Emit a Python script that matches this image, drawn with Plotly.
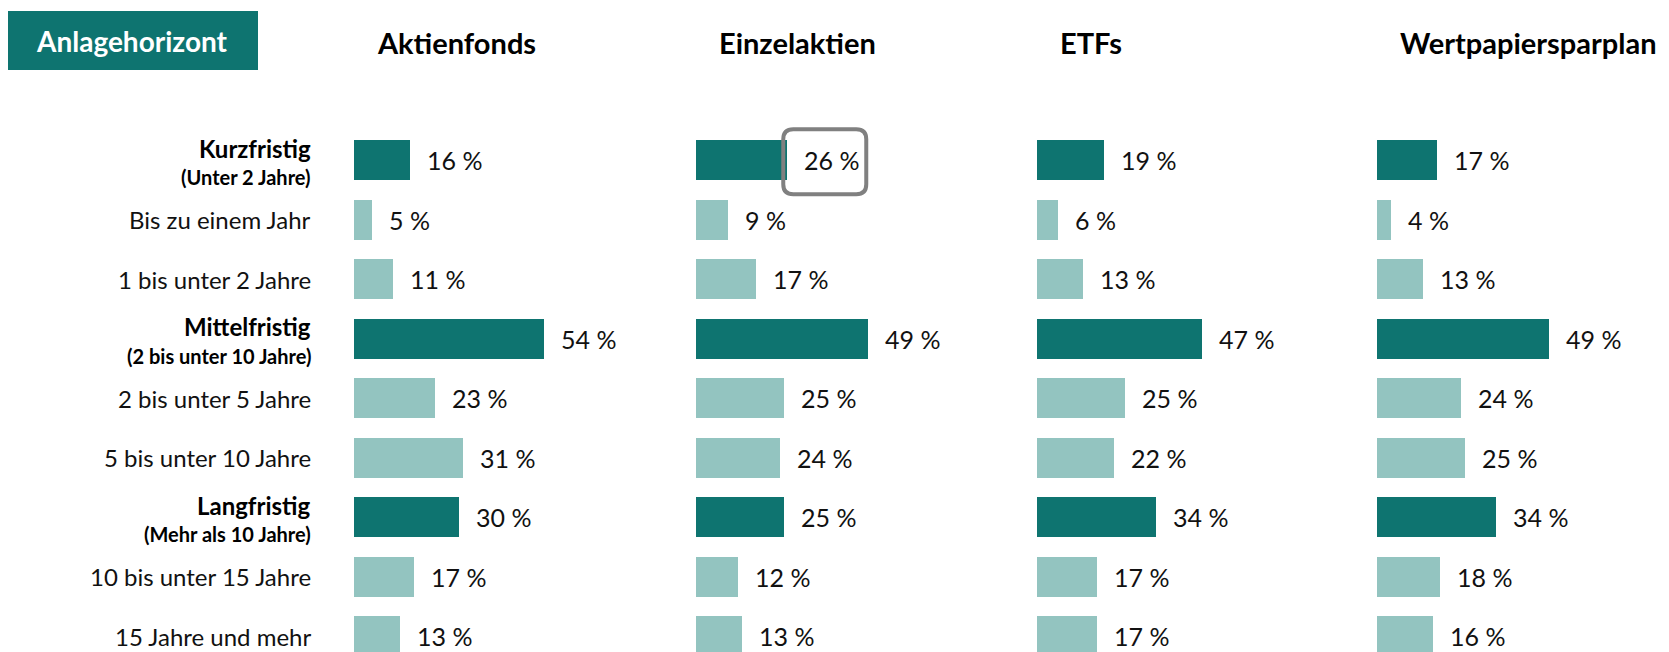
import plotly.graph_objects as go

# browser window size and the page's default body margin
WIN_W, WIN_H = 1669, 652
OFF = 8
W, H = WIN_W - OFF, WIN_H - OFF

categories = ["Kurzfristig", "Bis zu einem Jahr", "1 bis unter 2 Jahre",
              "Mittelfristig", "2 bis unter 5 Jahre", "5 bis unter 10 Jahre",
              "Langfristig", "10 bis unter 15 Jahre", "15 Jahre und mehr"]
subtitles = {"Kurzfristig": "(Unter 2 Jahre)",
             "Mittelfristig": "(2 bis unter 10 Jahre)",
             "Langfristig": "(Mehr als 10 Jahre)"}

products = ["Aktienfonds", "Einzelaktien", "ETFs", "Wertpapiersparplan"]
aktienfonds = [16, 5, 11, 54, 23, 31, 30, 17, 13]
einzelaktien = [26, 9, 17, 49, 25, 24, 25, 12, 13]
etfs = [19, 6, 13, 47, 25, 22, 34, 17, 17]
sparplan = [17, 4, 13, 49, 24, 25, 34, 18, 16]
values = [aktienfonds, einzelaktien, etfs, sparplan]

DARK = "#0E7470"
LIGHT = "#93C4C0"
FONT = "Lato"


def px_x(p):
    # window pixel -> paper x
    return (p - OFF) / W


def px_y(p):
    # window pixel -> paper y
    return 1 - (p - OFF) / H


# pixel layout (window coordinates)
bar_left = [354, 696, 1037, 1377]
px_per_pct = 3.51
dom_w = 290
row0, pitch = 160, 59.5

rows = list(range(len(categories)))
colors = [DARK if c in subtitles else LIGHT for c in categories]

fig = go.Figure()

for i, (name, vals) in enumerate(zip(products, values)):
    xa = "x" if i == 0 else f"x{i+1}"
    fig.add_trace(go.Bar(x=vals, y=rows, orientation="h", marker=dict(color=colors, line=dict(width=0)),
                         width=40 / pitch, xaxis=xa, yaxis="y", name=name, hoverinfo="x+y"))
    # value labels
    for r, v in zip(rows, vals):
        fig.add_annotation(x=v, y=r, xref=xa, yref="y", text=f"{v} %", showarrow=False,
                           xanchor="left", yanchor="middle", xshift=15,
                           font=dict(family=FONT, size=25, color="#111"))
    # product title
    fig.add_annotation(x=px_x(bar_left[i] + 21), y=px_y(42), xref="paper", yref="paper",
                       text=f"<b>{name}</b>", showarrow=False, xanchor="left", yanchor="middle",
                       font=dict(family=FONT, size=29, color="#000"))
    dom = [px_x(bar_left[i]), min(1, px_x(bar_left[i] + dom_w))]
    key = "xaxis" if i == 0 else f"xaxis{i+1}"
    fig.layout[key] = dict(domain=dom, range=[0, (dom[1] - dom[0]) * W / px_per_pct],
                           visible=False, anchor="y", fixedrange=True)

# category labels
lab_x = px_x(313)
for r, c in zip(rows, categories):
    if c in subtitles:
        fig.add_annotation(x=lab_x, y=r, xref="paper", yref="y", text=f"<b>{c}</b>",
                           showarrow=False, xanchor="right", yanchor="middle", yshift=12,
                           font=dict(family=FONT, size=24, color="#000"))
        fig.add_annotation(x=lab_x, y=r, xref="paper", yref="y", text=f"<b>{subtitles[c]}</b>",
                           showarrow=False, xanchor="right", yanchor="middle", yshift=-17,
                           font=dict(family=FONT, size=20, color="#000"))
    else:
        fig.add_annotation(x=lab_x, y=r, xref="paper", yref="y", text=c,
                           showarrow=False, xanchor="right", yanchor="middle",
                           font=dict(family=FONT, size=24, color="#111"))

# highlight box around the Einzelaktien short-term value
hv = einzelaktien[0]
x0, x1, h, rad = -4, 79, 32.5, 10
path = (f"M {x0+rad},{-h} L {x1-rad},{-h} Q {x1},{-h} {x1},{-h+rad} "
        f"L {x1},{h-rad} Q {x1},{h} {x1-rad},{h} L {x0+rad},{h} Q {x0},{h} {x0},{h-rad} "
        f"L {x0},{-h+rad} Q {x0},{-h} {x0+rad},{-h} Z")
fig.add_shape(type="path", xref="x2", yref="y", xsizemode="pixel", ysizemode="pixel",
              xanchor=hv, yanchor=0.03, path=path, line=dict(color="#808080", width=4),
              fillcolor="rgba(0,0,0,0)")

# header box
fig.add_shape(type="rect", xref="paper", yref="paper", x0=px_x(7), x1=px_x(258),
              y0=px_y(70), y1=px_y(11), fillcolor=DARK, line=dict(width=0), layer="below")
fig.add_annotation(x=px_x(132), y=px_y(41), xref="paper", yref="paper", text="<b>Anlagehorizont</b>",
                   showarrow=False, xanchor="center", yanchor="middle",
                   font=dict(family=FONT, size=28, color="white"))

y_top = -(row0 - OFF) / pitch
y_bot = (H - (row0 - OFF)) / pitch
fig.update_layout(
    width=W, height=H, margin=dict(l=0, r=0, t=0, b=0),
    paper_bgcolor="white", plot_bgcolor="white", showlegend=False, bargap=0,
    yaxis=dict(domain=[0, 1], range=[y_bot, y_top], visible=False, fixedrange=True),
)

fig.write_html("out.html")
